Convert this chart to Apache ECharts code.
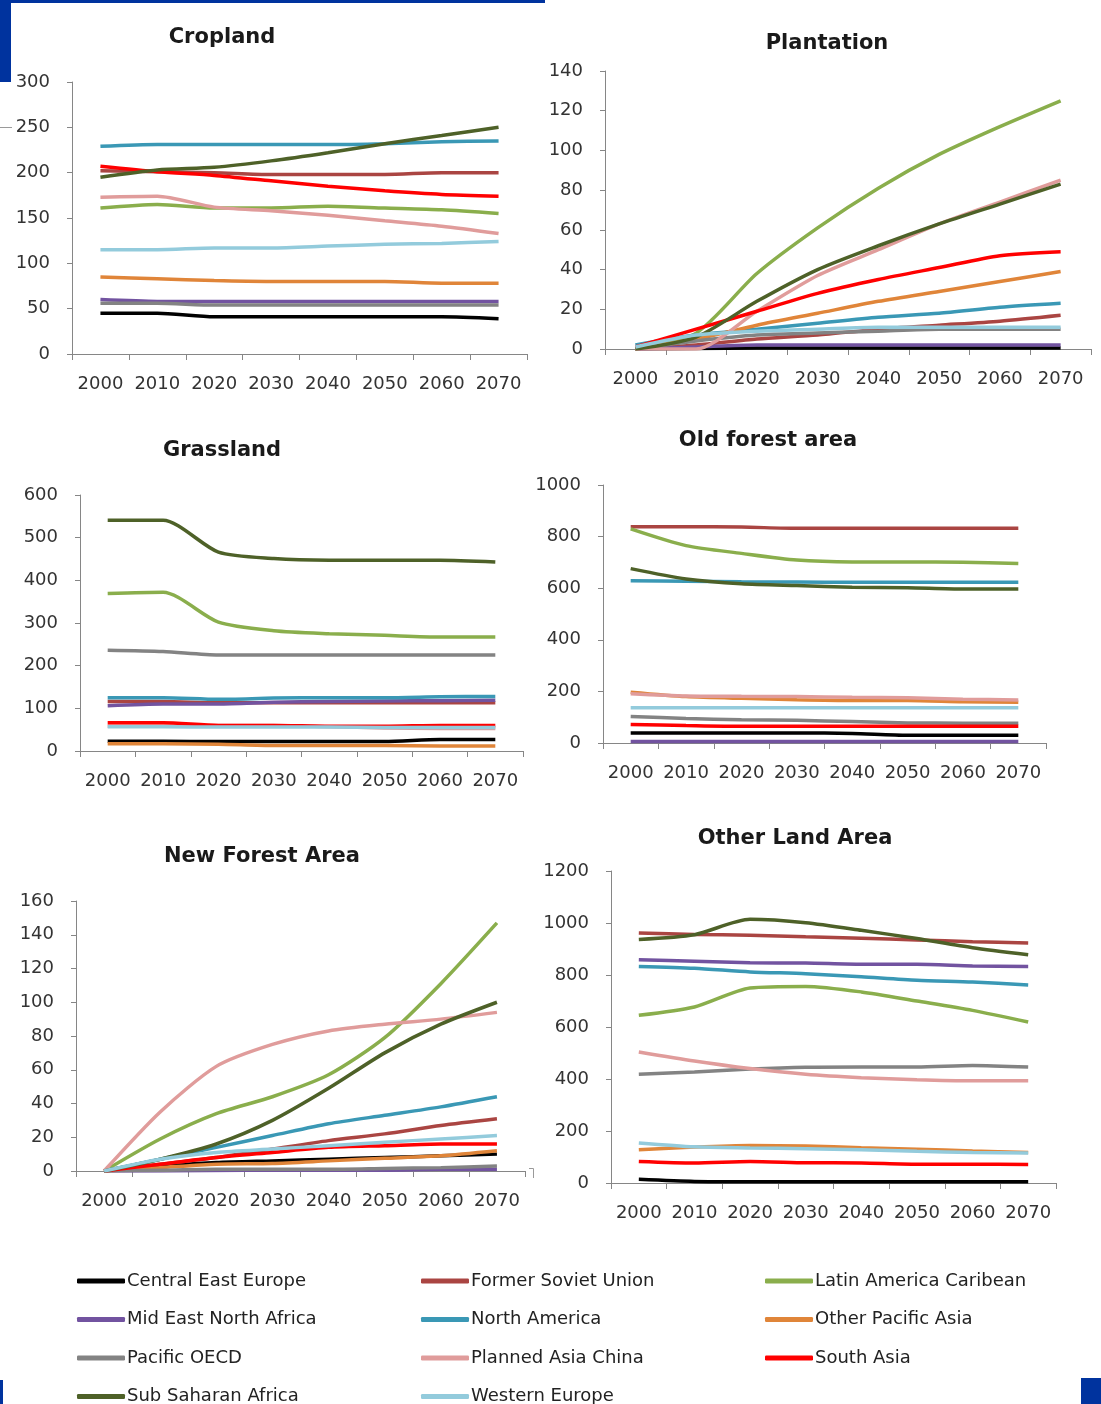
<!DOCTYPE html>
<html>
<head>
<meta charset="utf-8">
<title>Land use by region, 2000–2070</title>
<script src="https://cdn.jsdelivr.net/npm/echarts@6/dist/echarts.min.js"></script>
<style>
  html, body { margin: 0; padding: 0; background: #ffffff; }
  #chart { width: 1101px; height: 1404px; }
</style>
</head>
<body>
<div id="chart"></div>
<script>
// Categories and region names (series order = drawing order)
const years = ['2000', '2010', '2020', '2030', '2040', '2050', '2060', '2070'];
const regions = [
  'Central East Europe', 'Former Soviet Union', 'Latin America Caribean',
  'Mid East North Africa', 'North America', 'Other Pacific Asia',
  'Pacific OECD', 'Planned Asia China', 'South Asia',
  'Sub Saharan Africa', 'Western Europe'
];

// One row per region, in the order of `regions`
const cropland = [
  [45, 45, 41, 41, 41, 41, 41, 39],
  [202, 201, 200, 198, 198, 198, 200, 200],
  [161, 165, 161, 161, 163, 161, 159, 155],
  [60, 58, 58, 58, 58, 58, 58, 58],
  [229, 231, 231, 231, 231, 232, 234, 235],
  [85, 83, 81, 80, 80, 80, 78, 78],
  [56, 56, 54, 54, 54, 54, 54, 54],
  [173, 174, 162, 158, 153, 147, 141, 133],
  [207, 201, 197, 191, 185, 180, 176, 174],
  [195, 203, 206, 213, 222, 232, 241, 250],
  [115, 115, 117, 117, 119, 121, 122, 124]
];

const plantation = [
  [0, 0.3, 0.5, 0.5, 0.5, 0.5, 0.5, 0.5],
  [0, 2, 5, 7, 10, 12, 14, 17],
  [0, 8, 38, 61, 81, 98, 112, 125],
  [0, 1, 2, 2, 2, 2, 2, 2],
  [2, 7, 10, 13, 16, 18, 21, 23],
  [0, 5, 12, 18, 24, 29, 34, 39],
  [0, 4, 7, 8, 9, 10, 10, 10],
  [0, 0, 19, 37, 50, 63, 74, 85],
  [1, 10, 19, 28, 35, 41, 47, 49],
  [0, 6, 24, 40, 52, 63, 73, 83],
  [1, 7, 9, 10, 11, 11, 11, 11]
];

const grassland = [
  [23, 23, 22, 22, 22, 22, 27, 27],
  [116, 116, 113, 113, 113, 113, 113, 113],
  [369, 372, 302, 282, 275, 271, 267, 267],
  [106, 110, 110, 114, 116, 117, 118, 119],
  [125, 125, 121, 124, 125, 125, 127, 128],
  [17, 17, 16, 13, 13, 13, 12, 12],
  [236, 233, 225, 225, 225, 225, 225, 225],
  [58, 58, 60, 60, 57, 54, 53, 53],
  [66, 66, 60, 60, 58, 58, 60, 60],
  [541, 541, 466, 451, 447, 447, 447, 443],
  [57, 57, 56, 56, 56, 55, 55, 55]
];

const oldForest = [
  [39, 39, 39, 39, 37, 30, 30, 30],
  [838, 838, 837, 832, 832, 832, 832, 832],
  [830, 765, 735, 709, 702, 702, 701, 696],
  [6, 6, 6, 6, 6, 6, 6, 6],
  [629, 627, 625, 624, 623, 623, 623, 623],
  [197, 180, 173, 168, 165, 165, 160, 158],
  [103, 95, 90, 88, 83, 78, 77, 77],
  [191, 182, 181, 180, 177, 175, 170, 167],
  [72, 68, 65, 65, 65, 65, 65, 65],
  [676, 636, 617, 610, 604, 602, 597, 597],
  [137, 137, 137, 137, 137, 137, 137, 137]
];

const newForest = [
  [0, 3, 5, 6, 7, 8, 9, 10],
  [0, 4, 8, 13, 18, 22, 27, 31],
  [0, 19, 34, 44, 57, 79, 111, 147],
  [0, 0, 0.3, 0.5, 0.5, 0.5, 1, 1],
  [0, 7, 14, 21, 28, 33, 38, 44],
  [0, 2, 4, 4.5, 6, 7.5, 9, 12],
  [0, 0.5, 1, 1, 1, 1.5, 2, 3],
  [0, 35, 62, 75, 83, 87, 90, 94],
  [0, 4, 8, 11, 14, 15, 16, 16],
  [0, 7, 16, 30, 49, 70, 87, 100],
  [0, 7, 11, 13, 15, 17, 19, 21]
];

const otherLand = [
  [14, 6, 5, 5, 5, 5, 5, 5],
  [962, 956, 953, 947, 941, 935, 928, 923],
  [645, 677, 750, 756, 735, 700, 664, 619],
  [859, 853, 847, 846, 841, 841, 835, 833],
  [833, 826, 812, 805, 793, 780, 773, 762],
  [128, 138, 144, 142, 136, 130, 123, 117],
  [418, 427, 438, 445, 446, 446, 452, 446],
  [504, 469, 440, 418, 405, 397, 393, 393],
  [83, 77, 83, 78, 77, 72, 72, 71],
  [937, 955, 1014, 1001, 972, 940, 905, 878],
  [154, 139, 135, 132, 128, 122, 117, 115]
];

// Line colours, one per region
const palette = [
  '#000000', '#AA4542', '#8AAE4C', '#7253A0', '#3A98B5', '#E08539',
  '#838383', '#E09C9B', '#FF0000', '#4E6128', '#93CBDC'
];

const panels = [
  { title: 'Cropland',        data: cropland,   max: 300,  step: 50,
    box: { left: 72,  top: 82,  width: 455, height: 272 }, tx: 222, ty: 27 },
  { title: 'Plantation',      data: plantation, max: 140,  step: 20,
    box: { left: 605, top: 71,  width: 486, height: 278 }, tx: 827, ty: 33 },
  { title: 'Grassland',       data: grassland,  max: 600,  step: 100,
    box: { left: 80,  top: 495, width: 443, height: 256 }, tx: 222, ty: 440 },
  { title: 'Old forest area', data: oldForest,  max: 1000, step: 200,
    box: { left: 603, top: 485, width: 443, height: 258 }, tx: 768, ty: 430 },
  { title: 'New Forest Area', data: newForest,  max: 160,  step: 20,
    box: { left: 76,  top: 901, width: 449, height: 270 }, tx: 262, ty: 846 },
  { title: 'Other Land Area', data: otherLand,  max: 1200, step: 200,
    box: { left: 611, top: 871, width: 445, height: 312 }, tx: 795, ty: 828 }
];

const axisColor = '#868686';
const labelFont = { fontFamily: 'DejaVu Sans', fontSize: 18, color: '#333333' };

const grids = [], xAxes = [], yAxes = [], titles = [], series = [];
panels.forEach((p, i) => {
  grids.push(Object.assign({ containLabel: false }, p.box));
  titles.push({
    text: p.title, left: p.tx, top: p.ty, textAlign: 'center', padding: 0,
    textStyle: { fontFamily: 'DejaVu Sans', fontWeight: 'bold', fontSize: 21, color: '#1a1a1a' }
  });
  xAxes.push({
    type: 'category', gridIndex: i, data: years, boundaryGap: true,
    axisLine: { show: true, lineStyle: { color: axisColor, width: 1 } },
    axisTick: { show: true, length: 6, lineStyle: { color: axisColor } },
    axisLabel: Object.assign({ margin: 21, interval: 0 }, labelFont),
    splitLine: { show: false }
  });
  yAxes.push({
    type: 'value', gridIndex: i, min: 0, max: p.max, interval: p.step,
    axisLine: { show: true, lineStyle: { color: axisColor, width: 1 } },
    axisTick: { show: true, length: 5, lineStyle: { color: axisColor } },
    axisLabel: Object.assign({ margin: 22, formatter: v => String(v) }, labelFont),
    splitLine: { show: false }
  });
  p.data.forEach((row, k) => {
    series.push({
      type: 'line', name: regions[k], xAxisIndex: i, yAxisIndex: i,
      data: row, symbol: 'none', smooth: 0.25, z: 2 + k * 0.01,
      lineStyle: { width: 3.5, color: palette[k] },
      itemStyle: { color: palette[k] },
      emphasis: { disabled: true }
    });
  });
});

// Legend: three columns, filled row by row
const columns = [[], [], []];
regions.forEach((r, k) => columns[k % 3].push(r));
const legends = columns.map((names, c) => ({
  data: names, orient: 'vertical', left: 77 + c * 344, top: 1271,
  width: 330, height: 160,
  icon: 'roundRect', itemWidth: 48, itemHeight: 5, itemGap: 18.5, padding: 0,
  selectedMode: false,
  textStyle: { fontFamily: 'DejaVu Sans', fontSize: 18, lineHeight: 20, color: '#222222', padding: [0, 0, 0, -3] }
}));

const blue = '#00339E';
const option = {
  animation: false,
  backgroundColor: '#ffffff',
  title: titles,
  grid: grids,
  xAxis: xAxes,
  yAxis: yAxes,
  legend: legends,
  series: series,
  graphic: [
    { type: 'rect', shape: { x: 0, y: 0, width: 545, height: 3 }, style: { fill: blue } },
    { type: 'rect', shape: { x: 0, y: 0, width: 11, height: 82 }, style: { fill: blue } },
    { type: 'line', shape: { x1: 0, y1: 127.5, x2: 12, y2: 127.5 }, style: { stroke: '#9a9a9a', lineWidth: 1 } },
    { type: 'rect', shape: { x: 0, y: 1380, width: 3, height: 24 }, style: { fill: blue } },
    { type: 'rect', shape: { x: 1081, y: 1378, width: 20, height: 26 }, style: { fill: blue } },
    { type: 'polyline', shape: { points: [[529, 1168.5], [533.5, 1168.5], [533.5, 1178]] }, style: { stroke: '#9a9a9a', lineWidth: 1, fill: null } }
  ]
};

const chart = echarts.init(document.getElementById('chart'), null, { renderer: 'canvas' });
chart.setOption(option);
</script>
</body>
</html>
